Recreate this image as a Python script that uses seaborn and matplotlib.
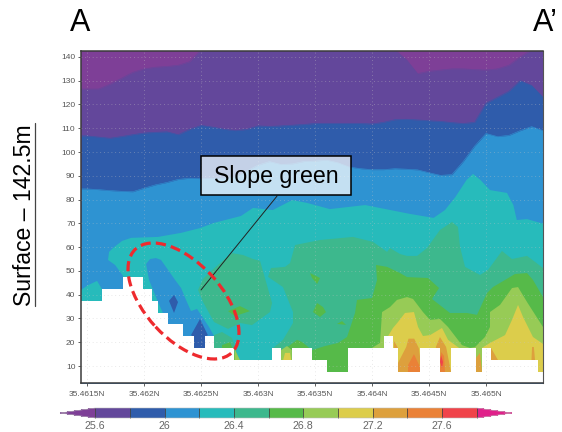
import numpy as np
import matplotlib
matplotlib.use("Agg")
import matplotlib.pyplot as plt
import seaborn as sns
from matplotlib.colors import ListedColormap, BoundaryNorm
from matplotlib.cm import ScalarMappable
from matplotlib.lines import Line2D
from matplotlib.patches import Ellipse, Rectangle
from matplotlib.transforms import IdentityTransform

# colour levels
levels = [25.6, 25.8, 26.0, 26.2, 26.4, 26.6, 26.8, 27.0, 27.2, 27.4, 27.6, 27.8]
colors = ['#63479B', '#2F5CAB', '#2E93D2', '#27BBBB', '#3DB88D', '#56BA49',
          '#97CB56', '#DCCD4B', '#DDA03D', '#EA8137', '#F0434A']
below_color = '#7E3F97'
above_color = '#E0208A'
PURPLE, BLUE, SKY, TEAL, SEA, GREEN, LIME, YELLOW, ORANGE, DARK, RED = colors

x_ticks = [35.4615, 35.462, 35.4625, 35.463, 35.4635, 35.464, 35.4645, 35.465]
x_labels = ['35.4615N', '35.462N', '35.4625N', '35.463N', '35.4635N', '35.464N', '35.4645N', '35.465N']
y_ticks = [10, 20, 30, 40, 50, 60, 70, 80, 90, 100, 110, 120, 130, 140]
cbar_ticks = [25.6, 26.0, 26.4, 26.8, 27.2, 27.6]

# longitude columns, in 1e-4 deg after 35.46
cols = [14.47] + list(range(15, 56))

# height of the upper isotherms in each column
h_256 = [126.5, 126.5, 126.5, 128.5, 131, 133.5, 135, 135.7, 136, 136.5, 138, 143,
         143, 143, 143, 143, 143, 143, 143, 143, 143, 143, 143, 143, 143, 143, 143, 143, 143,
         139, 133, 134, 134.5, 135, 135, 134.7, 134.5, 135, 136.5, 140, 143, 143]
h_258 = [106.8, 106.8, 106.3, 105.8, 106.5, 107.3, 108, 108.3, 108.5, 107.3, 109.5, 111.2,
         110.5, 109.6, 109, 109.5, 111, 110.8, 111, 111.3, 111.6, 112, 112, 112, 112, 112, 111.8,
         112.5, 113.6, 113.8, 113.5, 113.2, 112.9, 112.4, 112, 112.5, 120.5, 123, 125.5, 130, 128, 123]
h_260 = [84.5, 84.5, 84.2, 83.8, 83.5, 83.3, 84.8, 86.2, 87.2, 88.5, 89, 88.8,
         89, 89, 89.5, 92, 94.5, 96, 94.8, 95, 96, 96.2, 96.6, 95.5, 93.7, 93, 92.6,
         92.6, 93, 92.8, 92.5, 91.3, 90.2, 90.5, 96, 102.5, 107.8, 106.5, 107, 109, 110.7, 109]

# bottom terrain steps
terrain_u = [14.47, 16.29, 18.13, 19.89, 20.70, 21.20, 22.08, 23.39, 24.36, 25.35, 26.17, 27.92,
             31.2, 32.02, 32.96, 34.71, 36.03, 37.92, 41.05, 41.87, 42.31, 44.21, 45.96, 46.90,
             49.10, 49.62, 50.44, 54.54, 55.0]
terrain_h = [37.5, 42.5, 47.5, 42.5, 37.5, 32.5, 27.5, 22.5, 17.5, 22.5, 17.5, 12.5,
             17.5, 12.5, 17.5, 12.5, 7.5, 17.5, 22.5, 17.5, 7.5, 17.5, 7.5, 17.5,
             7.5, 17.5, 12.5, 7.5, 7.5]

# closed contour regions, (u, height)
teal_main = [(18.16, 47.9), (17.46, 52.5), (16.84, 54.6), (16.93, 58), (17.37, 60), (18.07, 62.6),
             (18.86, 63.9), (21.23, 64.3), (23.25, 66), (24.9, 68), (26.14, 70.2), (28.5, 73.1),
             (29.56, 76.5), (31.3, 75.6), (33, 79.8), (34.3, 78.6), (36.3, 76), (39.4, 77.7),
             (42.46, 74.8), (43.3, 74), (45.4, 72.3), (46.4, 75.6), (47.3, 81), (48.3, 88.3),
             (48.86, 90.8), (49.5, 88.3), (50.35, 84), (51.84, 82.8), (52.4, 77.7), (52.7, 71.4),
             (53.6, 71.8), (54.9, 70), (55, 70), (55, 5), (18.16, 5)]
teal_left = [(14.47, 42), (15.09, 44), (15.88, 45.8), (16.3, 42.4), (16.3, 35), (14.47, 35)]
sky_tongue = [(20.18, 52.9), (20.53, 55), (21.05, 55.4), (21.49, 54.6), (22.11, 50.4), (22.72, 46.2),
              (23.25, 42.8), (23.68, 37.8), (24.12, 33.1), (24.65, 34), (25.18, 30.2), (25.7, 26.4),
              (26.14, 22.6), (26.32, 18.8), (26.32, 15.9), (23.16, 15.9), (21.23, 36.9), (20.44, 46.2)]
blue_diamond = [(22.63, 39.9), (22.19, 37.4), (22.63, 32.3), (22.98, 36.9)]
blue_arrow = [(24.91, 29.8), (24.12, 23), (24.39, 22.2), (24.39, 16), (25.35, 16), (25.35, 22.2), (25.6, 23)]
sea_lobe = [(24.74, 42), (25.18, 46.6), (25.61, 48.7), (26.67, 53.3), (27.72, 57.5), (28.68, 56.7),
            (29.56, 55), (30.18, 54.2), (30.53, 48.3), (31.23, 36.5), (31.05, 32.7), (29.47, 27.2),
            (28.42, 28.1), (27.37, 25.6), (26.14, 28.5), (25.18, 36.9)]
sea_foot = [(26.14, 23), (26.84, 24.3), (27.72, 21.8), (28.07, 16.7), (28.25, 12.5), (28.25, 10), (26, 10)]
sea_main = [(30.88, 47.5), (31.14, 51.2), (32.37, 51.7), (32.81, 53.3), (33.25, 60.9), (35.44, 63),
            (38.33, 64.3), (40.09, 62.2), (41.32, 58), (41.58, 59.6), (42.46, 57.1), (43.07, 56.3),
            (43.95, 56.3), (44.82, 59.6), (45.96, 67.2), (47.02, 70.6), (47.54, 68.5), (47.72, 60.1),
            (48.16, 51.7), (49.47, 48.3), (50.18, 50.4), (51.4, 58.4), (52.28, 55), (53.6, 56.3),
            (54.3, 53.8), (55, 51.2), (55, 5), (31.3, 5), (31.3, 17.5), (32.19, 21), (33.07, 28.1),
            (33.07, 32.7), (32.19, 43.2)]
green_lobe = [(27.37, 33.1), (28.42, 35.2), (29.3, 33.1), (27.98, 31)]
green_foot = [(26.84, 18.8), (27.54, 20), (27.89, 15.9), (28.07, 12.5), (27.89, 10), (26.84, 10)]
green_spot1 = [(34.56, 49.1), (35.44, 47), (35.18, 44.5), (34.74, 47)]
green_spot2 = [(35.18, 36.5), (35.7, 34.8), (35.96, 32.7), (35.44, 30.6), (34.82, 32.7)]
green_spot3 = [(36.93, 27.7), (37.37, 28.9), (37.72, 27.3)]
green_low = [(32.19, 16.7), (32.81, 18.8), (33.42, 21), (33.86, 20.1), (34.74, 16.7), (34.74, 10), (32.19, 10)]
green_main = [(34.74, 16.7), (35.88, 18.4), (37.02, 19.7), (37.81, 22.2), (38.51, 32.3), (38.68, 37.8),
              (40, 38.6), (40.44, 46.2), (40.35, 52.5), (41.32, 51.7), (42.46, 49.1), (43.07, 47.4),
              (44.91, 47), (45.88, 42.8), (45.26, 38.2), (46.84, 32.3), (48.33, 32.3), (49.21, 31.5),
              (50.09, 40.7), (50.61, 43.2), (51.67, 46.2), (52.54, 48.7), (53.6, 49.1), (54.12, 46.2),
              (55, 39), (55, 5), (34.74, 5)]
lime_main = [(40, 17.6), (40.7, 19.7), (40.88, 32.7), (41.58, 34.8), (42.19, 37.8), (43.07, 39), (43.6, 38.2),
             (44.47, 32.7), (45.09, 29.4), (45.96, 29.8), (46.67, 26.4), (47.89, 18.8), (48.6, 17.6),
             (49.04, 18), (49.91, 22.2), (50.35, 26.4), (50.35, 32.7), (51.23, 35.7), (52.28, 42.8),
             (52.81, 43.2), (53.6, 36.9), (55, 26.4), (55, 5), (40, 5)]
lime_foot = [(27.94, 17.6), (28.07, 15.9), (28.42, 12.5), (27.94, 12.5)]
lime_low = [(32.02, 12.5), (32.02, 16.7), (32.54, 18.4), (32.96, 16.7), (32.96, 12.5)]
yellow_left = [(41.4, 22.5), (41.84, 26), (42.28, 28.5), (42.89, 32.3), (43.68, 32.7), (44.04, 26.4), (44.47, 22.6),
               (45.09, 23), (46.14, 26), (46.67, 21), (47.89, 16.7), (47.89, 7), (41.4, 7)]
yellow_right = [(49.65, 17.6), (50.35, 19.7), (51.67, 23), (52.28, 29.4), (52.81, 35.7), (53.25, 30.6),
                (54.12, 22.2), (55, 19.3), (55, 5), (49.65, 5)]
yellow_low = [(32.2, 12.5), (32.37, 15.5), (32.8, 15.5), (32.9, 12.5)]
orange_a = [(42.28, 7.5), (42.28, 11.3), (43.0, 18), (43.2, 21.5), (43.7, 21.5), (44.1, 17.6), (44.4, 7.5)]
orange_b = [(45.6, 18), (45.96, 22.2), (46.5, 18), (46.93, 7.5), (45.96, 7.5)]
orange_c = [(49.12, 7.5), (49.12, 13.4), (49.47, 15.5), (49.65, 7.5)]
orange_d = [(50.44, 17.6), (51.05, 12.5), (50.44, 12.5)]
orange_e = [(53.99, 12.5), (54.04, 18), (54.2, 18), (54.3, 12.5)]
orange_f = [(41.93, 20.5), (42.28, 17.6), (41.93, 17.6)]
dark_a = [(43.16, 7.5), (43.16, 10.4), (43.68, 15), (44.21, 9.6), (44.3, 7.5)]
dark_b = [(45.96, 7.5), (46.05, 15.9), (46.32, 14.2), (46.4, 7.5)]
red_b = [(46.05, 14.6), (46.23, 11.7), (46.14, 9.2), (45.96, 11.7)]

regions = [(TEAL, teal_main), (TEAL, teal_left), (SKY, sky_tongue), (BLUE, blue_diamond), (BLUE, blue_arrow),
           (SEA, sea_main), (SEA, sea_lobe), (SEA, sea_foot), (GREEN, green_lobe), (GREEN, green_foot),
           (GREEN, green_spot1), (GREEN, green_spot2), (GREEN, green_spot3), (GREEN, green_low),
           (GREEN, green_main), (LIME, lime_main), (LIME, lime_foot), (LIME, lime_low),
           (YELLOW, yellow_left), (YELLOW, yellow_right), (YELLOW, yellow_low),
           (ORANGE, orange_a), (ORANGE, orange_b), (ORANGE, orange_c), (ORANGE, orange_d),
           (ORANGE, orange_e), (ORANGE, orange_f), (DARK, dark_a), (DARK, dark_b), (RED, red_b)]


def to_lat(u):
    return 35.46 + np.asarray(u, dtype=float) * 1e-4


sns.set_theme(style="ticks")
plt.rcParams['font.family'] = ['Liberation Sans', 'DejaVu Sans']

W, H = 562, 432
fig = plt.figure(figsize=(W / 100, H / 100), dpi=100)
ax = fig.add_axes([81 / W, (H - 383) / H, 462 / W, 332 / H])
ymin, ymax = 2.85, 142.5
lat = to_lat(cols)

ax.set_facecolor(below_color)
for col, bound in [(PURPLE, h_256), (BLUE, h_258), (SKY, h_260)]:
    ax.fill_between(lat, ymin, bound, color=col, lw=0)
    sns.lineplot(x=lat, y=bound, color=col, lw=0.4, ax=ax, legend=False)

for col, pts in regions:
    u, h = zip(*pts)
    ax.fill(to_lat(u), h, color=col, lw=0)

ax.fill_between(to_lat(terrain_u), ymin, terrain_h, step='post', color='white', lw=0, zorder=1.5)

ax.set_xlim(lat[0], lat[-1])
ax.set_ylim(ymin, ymax)
ax.set_xticks(x_ticks)
ax.set_xticklabels(x_labels)
ax.set_yticks(y_ticks)
ax.set_axisbelow(False)
ax.grid(True, color='#c4c4c4', ls=(0, (1, 3.5)), lw=0.6, alpha=0.5)
ax.tick_params(axis='both', length=2.5, width=0.6, color='#444444', labelcolor='#555555',
               labelsize=6, pad=1.5)
ax.tick_params(axis='x', pad=3.5)
for side in ['left', 'top', 'bottom']:
    ax.spines[side].set_linewidth(1.1)
    ax.spines[side].set_color('#3a3a3a')
ax.spines['right'].set_linewidth(0.8)
ax.spines['right'].set_color('#555555')

# leader line, red ellipse, callout box
ax.plot(to_lat([31.67, 25]), [81.5, 42], color='#222222', lw=0.7, zorder=6)
fig.add_artist(Ellipse((183.5, H - 301), 141.4, 76, angle=-47.3, transform=IdentityTransform(),
                       fill=False, ec='#EE2A2E', lw=2.3, ls=(0, (3.2, 1.6)), zorder=6))
fig.add_artist(Rectangle((201 / W, (H - 195) / H), 150 / W, 39 / H, transform=fig.transFigure,
                         fc=(1, 1, 1, 0.72), ec='black', lw=1.1, zorder=7))
fig.text(276 / W, (H - 176) / H, 'Slope green', fontsize=16.7, color='black', ha='center', va='center', zorder=8)

fig.text(70 / W, (H - 23) / H, 'A', fontsize=22, color='black', ha='left', va='center')
fig.text(533 / W, (H - 23) / H, 'A\u2019', fontsize=22, color='black', ha='left', va='center')
fig.text(25 / W, (H - 215) / H, 'Surface \u2013 142.5m', fontsize=16.6, color='black', rotation=90,
         ha='center', va='center')
fig.add_artist(Line2D([34.7 / W, 34.7 / W], [(H - 306) / H, (H - 123) / H], color='#444444', lw=0.9))

# colour bar, the axes width includes both end triangles
cmap = ListedColormap(colors).with_extremes(under=below_color, over=above_color)
norm = BoundaryNorm(levels, cmap.N)
cax = fig.add_axes([60 / W, (H - 418) / H, 452 / W, 10 / H])
cbar = fig.colorbar(ScalarMappable(norm=norm, cmap=cmap), cax=cax, orientation='horizontal',
                    extend='both', extendfrac=0.092, ticks=cbar_ticks, format='%g', drawedges=True)
cbar.minorticks_off()
cbar.dividers.set_color('#444444')
cbar.dividers.set_linewidth(0.6)
cbar.outline.set_edgecolor('#bbbbbb')
cbar.outline.set_linewidth(0.4)
cbar.ax.tick_params(which='both', length=0, labelsize=7.7, labelcolor='#666666', pad=2)

fig.savefig('out.png', dpi=100, facecolor='white')
